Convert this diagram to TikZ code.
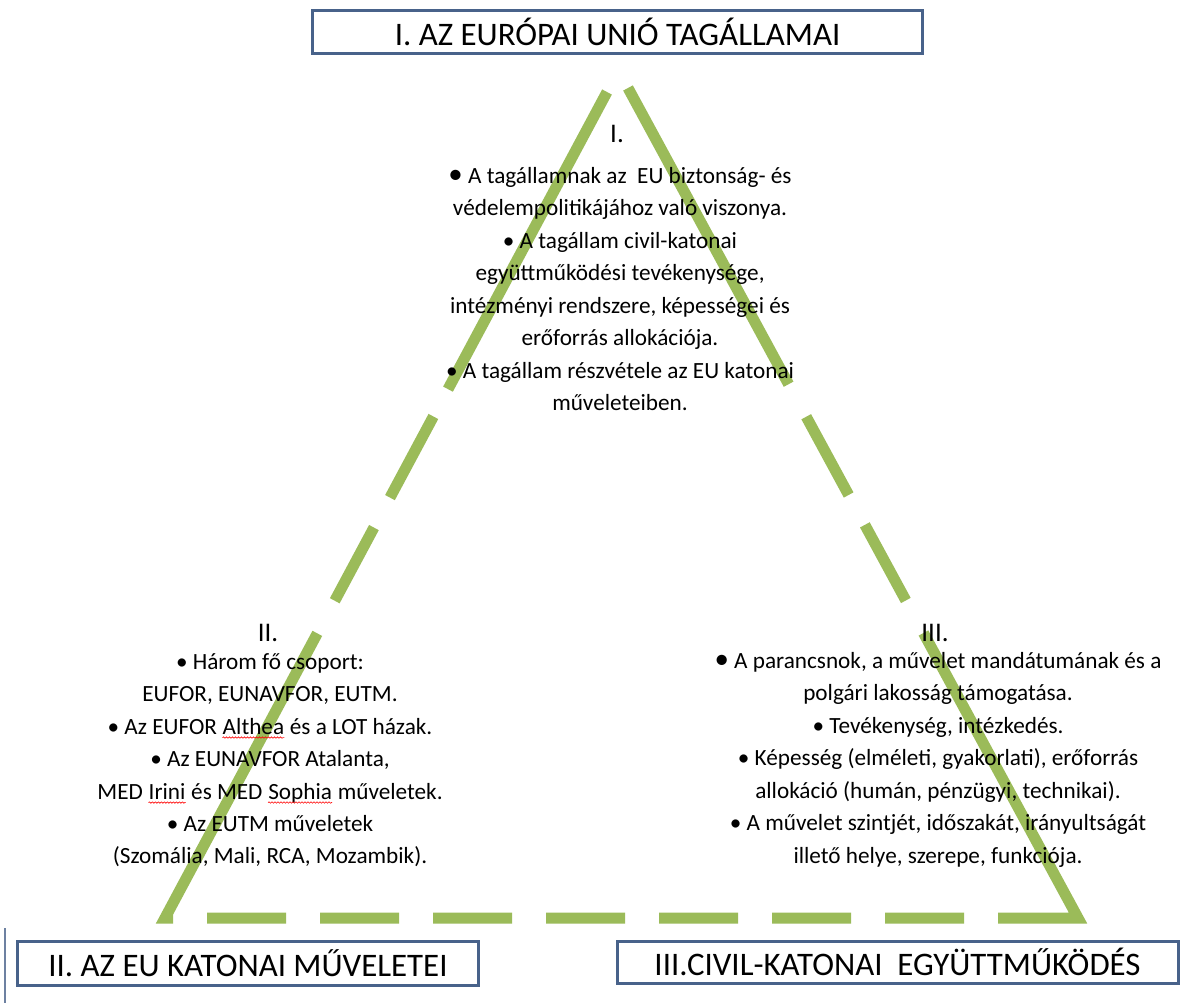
\documentclass[tikz,border=0pt]{standalone}
\usepackage{fontspec}
\setmainfont{Carlito}
\usepackage{tikz}
\usetikzlibrary{decorations.pathmorphing}
\definecolor{leaf}{RGB}{155,187,89}
\definecolor{boxblue}{RGB}{72,98,138}
\newcommand{\headfont}{\fontsize{33}{40}\selectfont}
\newcommand{\bodyfont}{\fontsize{23.3}{32.6}\selectfont}
\newcommand{\numfont}{\fontsize{27}{32}\selectfont}
\newcommand{\bigbul}{{\fontsize{29}{30}\selectfont\textbullet}}
\newcommand{\spellmark}[1]{\tikz[baseline=(w.base)]{\node[inner sep=0pt] (w) {#1};
	\draw[red,line width=0.6bp,decorate,decoration={snake,amplitude=0.7bp,segment length=3bp}]
	([yshift=-3.5bp]w.base west) -- ([yshift=-3.5bp]w.base east);}}

\begin{document}
\begin{tikzpicture}[x=1bp,y=-1bp]
\tikzstyle{box}=[draw=boxblue,line width=3bp,fill=white,inner sep=0pt,font=\headfont]
\tikzstyle{block}=[align=center,inner sep=0pt,anchor=north,font=\bodyfont]
\tikzstyle{numeral}=[inner sep=0pt,font=\numfont]
\useasboundingbox[fill=white] (0,0) rectangle (1180,1003);
\foreach \name/\point in {
	apexL/{607,92},
	cornerL/{165,918},
	cornerR/{1078,918},
	apexR/{628,88}}
	\coordinate (\name) at (\point);
\draw[leaf,line width=11bp,line join=miter,
	dash pattern=on 337bp off 31bp on 92bp off 34bp on 83bp off 37bp on 331bp off 34bp
	on 79bp off 34bp on 79bp off 34bp on 79bp off 34bp on 79bp off 34bp
	on 79bp off 34bp on 79bp off 34bp on 79bp off 34bp
	on 404bp off 37bp on 86bp off 34bp on 89bp off 37bp on 340bp off 20bp]
	(apexL) -- (cornerL) -- (cornerR) -- (apexR);
\draw[boxblue!80,line width=1.5bp] (5,928) -- (5,1003);
\node[box,minimum width=609bp,minimum height=43bp] (tagallamok) at (617.5,31.5) {I. AZ EURÓPAI UNIÓ TAGÁLLAMAI};
\node[box,minimum width=460bp,minimum height=44bp] (muveletek) at (248,963) {II. AZ EU KATONAI MŰVELETEI};
\node[box,minimum width=561bp,minimum height=42bp] (egyuttmukodes) at (897.5,962) {III.CIVIL-KATONAI\ \ EGYÜTTMŰKÖDÉS};
\node[numeral] (numI) at (617,134) {I.};
\node[numeral] (numII) at (268,633) {II.};
\node[numeral] (numIII) at (935,633) {III.};
\node[block] (textI) at (620,167) {\bigbul{} A tagállamnak az\ \ EU biztonság- és\\
	védelempolitikájához való viszonya.\\
	• A tagállam civil-katonai\\
	együttműködési tevékenysége,\\
	intézményi rendszere, képességei és\\
	erőforrás allokációja.\\
	• A tagállam részvétele az EU katonai\\
	műveleteiben.};
\node[block] (textII) at (270,653) {• Három fő csoport:\\
	EUFOR, EUNAVFOR, EUTM.\\
	• Az EUFOR \spellmark{Althea} és a LOT házak.\\
	• Az EUNAVFOR Atalanta,\\
	MED \spellmark{Irini} és MED \spellmark{Sophia} műveletek.\\
	• Az EUTM műveletek\\
	(Szomália, Mali, RCA, Mozambik).};
\node[block] (textIII) at (938,652) {\bigbul{} A parancsnok, a művelet mandátumának és a\\
	polgári lakosság támogatása.\\
	• Tevékenység, intézkedés.\\
	• Képesség (elméleti, gyakorlati), erőforrás\\
	allokáció (humán, pénzügyi, technikai).\\
	• A művelet szintjét, időszakát, irányultságát\\
	illető helye, szerepe, funkciója.};
\end{tikzpicture}
\end{document}
